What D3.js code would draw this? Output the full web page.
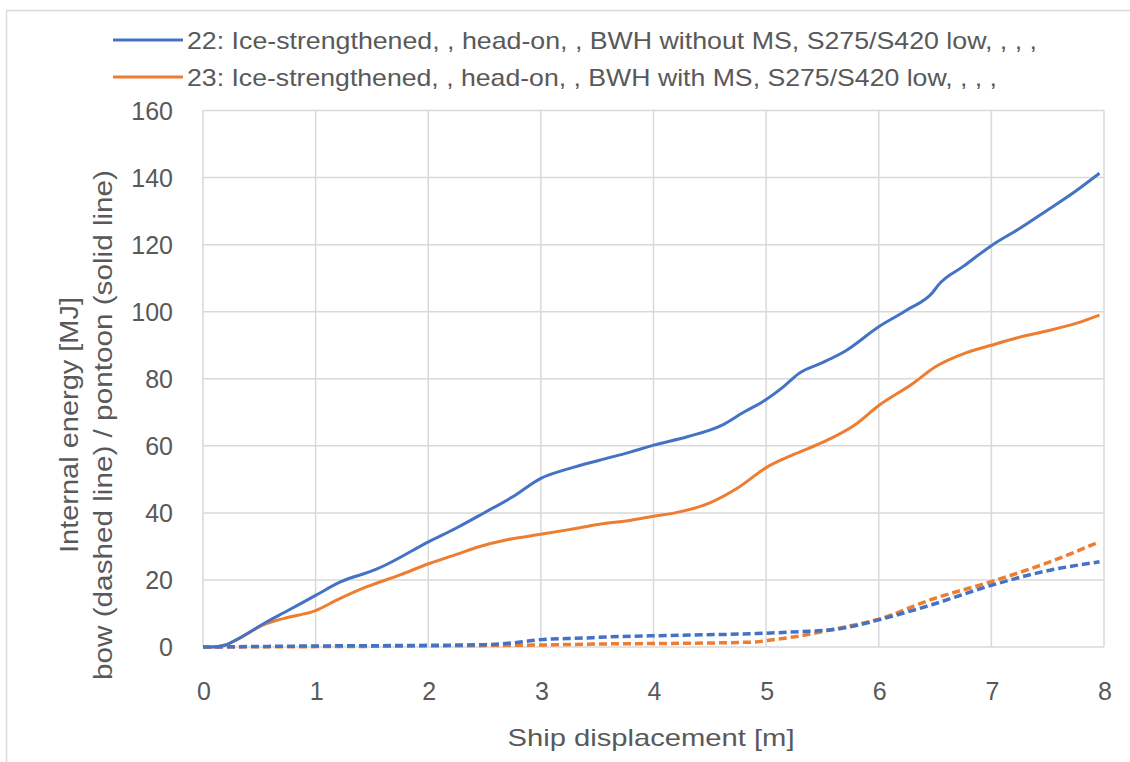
<!DOCTYPE html>
<html>
<head>
<meta charset="utf-8">
<script src="https://cdn.jsdelivr.net/npm/d3@7"></script>
<style>
  body { margin: 0; background: #fff; }
  svg { display: block; font-family: "Liberation Sans", Arial, sans-serif; }
</style>
</head>
<body>
<div id="chart"></div>
<script>
// series 22 (BWH without MS) and 23 (BWH with MS), [displacement m, energy MJ]
const pontoon22 = [
  [0, 0], [0.12, 0.1], [0.2, 0.6], [0.3, 2.2], [0.53, 6.8], [0.75, 10.8], [1.0, 15.4], [1.22, 19.4],
  [1.54, 23.2], [1.63, 24.6], [2.01, 31.5], [2.25, 35.5], [2.49, 39.9], [2.75, 44.8],
  [3.0, 50.3], [3.25, 53.2], [3.52, 55.7], [3.8, 58.2], [4.0, 60.2], [4.3, 62.7],
  [4.6, 66], [4.8, 70], [5.0, 73.8], [5.15, 77.5], [5.3, 81.8], [5.5, 84.8], [5.7, 88.2],
  [6.0, 95.5], [6.25, 100.5], [6.48, 105.8], [6.53, 108], [6.75, 113.5], [7.0, 119.7],
  [7.25, 124.8], [7.48, 129.9], [7.75, 136], [7.96, 141.3]
];
const pontoon23 = [
  [0, 0], [0.12, 0.1], [0.2, 0.6], [0.3, 2.2], [0.53, 6.5], [0.75, 8.8], [0.98, 10.6], [1.2, 14.2],
  [1.45, 17.9], [1.75, 21.5], [2.01, 24.9], [2.25, 27.6], [2.45, 29.9], [2.7, 32],
  [3.0, 33.6], [3.25, 35], [3.52, 36.6], [3.8, 37.8], [4.0, 39], [4.19, 40], [4.5, 43],
  [4.75, 47.5], [5.0, 53.5], [5.25, 57.5], [5.5, 61], [5.8, 66.5], [6.0, 72],
  [6.3, 78.5], [6.5, 83.5], [6.78, 87.8], [7.0, 90], [7.3, 92.8], [7.5, 94.3],
  [7.75, 96.5], [7.96, 99]
];
const bow22 = [
  [0, 0], [1.0, 0.3], [2.0, 0.5], [2.5, 0.7], [2.8, 1.4], [3.0, 2.2], [3.4, 2.7],
  [3.52, 2.9], [4.23, 3.5], [4.91, 4.0], [5.3, 4.6], [5.6, 5.2], [5.8, 6.4], [6.0, 8.1],
  [6.47, 12.6], [7.0, 18.4], [7.52, 22.9], [7.96, 25.4]
];
const bow23 = [
  [0, 0], [2.0, 0.3], [3.0, 0.6], [3.52, 0.9], [4.23, 1.1], [4.91, 1.5], [5.0, 1.9],
  [5.3, 3.3], [5.6, 5.3], [6.0, 8.3], [6.47, 14.2], [7.0, 19.5], [7.52, 25.4], [7.96, 31.4]
];
const xTicks = [0, 1, 2, 3, 4, 5, 6, 7, 8];
const yTicks = [0, 20, 40, 60, 80, 100, 120, 140, 160];
const legendLabels = [
  "22: Ice-strengthened, , head-on, , BWH without MS, S275/S420 low, , , ,",
  "23: Ice-strengthened, , head-on, , BWH with MS, S275/S420 low, , , ,"
];

const W = 1130, H = 762;
const blue = "#4472c4", orange = "#ed7d31";
const gridColor = "#d9d9d9", textColor = "#595959";

const svg = d3.select("#chart").append("svg")
  .attr("width", W).attr("height", H);

// outer frame (only top and left edges are visible in the source)
svg.append("path")
  .attr("d", "M6.5," + H + " V10.5 H" + W)
  .attr("fill", "none").attr("stroke", "#d9d9d9").attr("stroke-width", 1.5);

const x = d3.scaleLinear().domain([0, 8]).range([203, 1104]);
const y = d3.scaleLinear().domain([0, 160]).range([647, 110.5]);

// gridlines
svg.append("g").selectAll("line.h").data(yTicks).join("line")
  .attr("x1", x(0)).attr("x2", x(8))
  .attr("y1", d => y(d)).attr("y2", d => y(d))
  .attr("stroke", gridColor).attr("stroke-width", 1.5);
svg.append("g").selectAll("line.v").data(xTicks).join("line")
  .attr("x1", d => x(d)).attr("x2", d => x(d))
  .attr("y1", y(0)).attr("y2", y(160))
  .attr("stroke", gridColor).attr("stroke-width", 1.5);

// tick labels
svg.append("g").selectAll("text").data(yTicks).join("text")
  .attr("x", 173).attr("y", d => y(d))
  .attr("dy", "0.36em")
  .attr("text-anchor", "end")
  .attr("font-size", 25)
  .attr("fill", textColor)
  .text(d => d);
svg.append("g").selectAll("text").data(xTicks).join("text")
  .attr("x", d => x(d) + 1).attr("y", 700)
  .attr("text-anchor", "middle")
  .attr("font-size", 25)
  .attr("fill", textColor)
  .text(d => d);

// axis titles
svg.append("text")
  .attr("x", 651).attr("y", 746)
  .attr("text-anchor", "middle")
  .attr("font-size", 24)
  .attr("fill", textColor)
  .attr("textLength", 287).attr("lengthAdjust", "spacingAndGlyphs")
  .text("Ship displacement [m]");

const yTitle = svg.append("g").attr("transform", "translate(0,425) rotate(-90)");
yTitle.append("text")
  .attr("x", 0).attr("y", 78)
  .attr("text-anchor", "middle")
  .attr("font-size", 25)
  .attr("fill", textColor)
  .attr("textLength", 256).attr("lengthAdjust", "spacingAndGlyphs")
  .text("Internal energy [MJ]");
yTitle.append("text")
  .attr("x", 0).attr("y", 112)
  .attr("text-anchor", "middle")
  .attr("font-size", 25)
  .attr("fill", textColor)
  .attr("textLength", 510).attr("lengthAdjust", "spacingAndGlyphs")
  .text("bow (dashed line) / pontoon (solid line)");

// lines
const line = d3.line()
  .x(d => x(d[0]))
  .y(d => y(d[1]))
  .curve(d3.curveMonotoneX);

const series = [
  { data: bow23, color: orange, dash: "8,4" },
  { data: bow22, color: blue, dash: "8,4" },
  { data: pontoon23, color: orange, dash: null },
  { data: pontoon22, color: blue, dash: null }
];

svg.append("g").selectAll("path").data(series).join("path")
  .attr("d", d => line(d.data))
  .attr("fill", "none")
  .attr("stroke", d => d.color)
  .attr("stroke-width", d => d.dash ? 3.5 : 3)
  .attr("stroke-dasharray", d => d.dash)
  .attr("stroke-linejoin", "round");

// legend
const legend = svg.append("g");
const legendColors = [blue, orange];
const legendY = [40, 77];
const legendLen = [850, 810];
legendLabels.forEach((label, i) => {
  legend.append("line")
    .attr("x1", 113).attr("x2", 183)
    .attr("y1", legendY[i]).attr("y2", legendY[i])
    .attr("stroke", legendColors[i]).attr("stroke-width", 3);
  legend.append("text")
    .attr("x", 187).attr("y", legendY[i] + 9)
    .attr("font-size", 24)
    .attr("fill", textColor)
    .attr("textLength", legendLen[i]).attr("lengthAdjust", "spacingAndGlyphs")
    .text(label);
});
</script>
</body>
</html>
